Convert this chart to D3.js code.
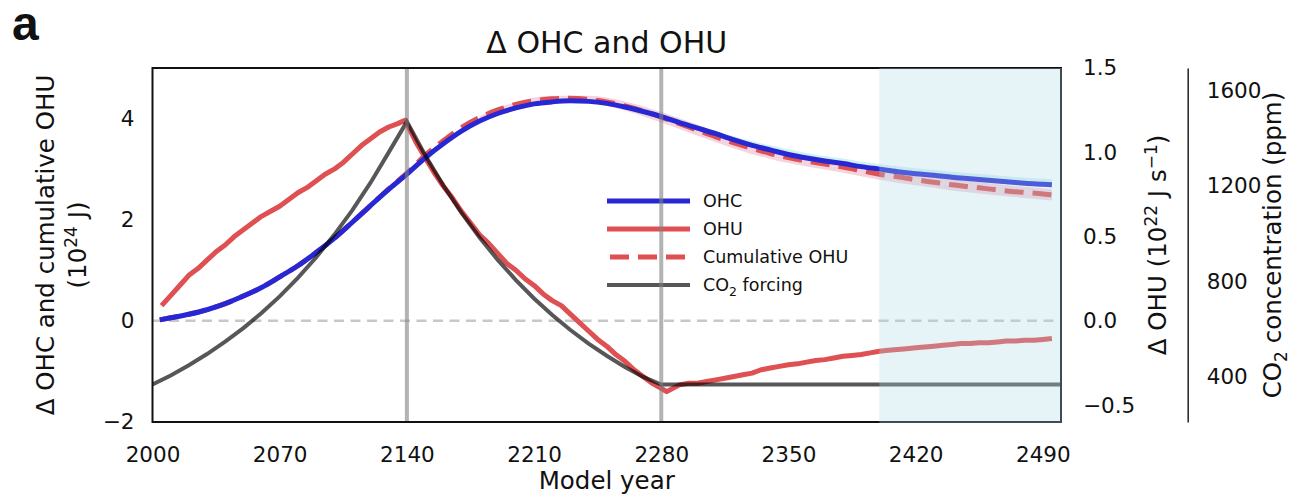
<!DOCTYPE html>
<html>
<head>
<meta charset="utf-8">
<script src="https://cdn.jsdelivr.net/npm/d3@7"></script>
<style>
  body { margin: 0; background: #fff; }
  svg text { font-family: "DejaVu Sans", sans-serif; fill: #111; }
</style>
</head>
<body>
<div id="chart"></div>
<script>
// ---- data ----
var xTicks = [2000, 2070, 2140, 2210, 2280, 2350, 2420, 2490];
var leftTicks = [-2, 0, 2, 4];
var ohuTicks = [-0.5, 0.0, 0.5, 1.0, 1.5];
var co2Ticks = [400, 800, 1200, 1600];
var markerYears = [2140, 2280];
var shadeYears = [2400, 2500];

// OHC (10^24 J)
var ohcYears = [2004, 2010, 2020, 2030, 2040, 2050, 2060, 2070, 2080, 2090, 2100, 2110, 2120, 2130, 2140,
  2150, 2160, 2170, 2180, 2190, 2200, 2210, 2220, 2230, 2240, 2250, 2260, 2270, 2280, 2290, 2300,
  2310, 2320, 2330, 2340, 2350, 2360, 2370, 2380, 2390, 2400, 2410, 2420, 2430, 2440, 2450, 2460,
  2470, 2480, 2490, 2495];
var ohcValues = [0.02, 0.06, 0.13, 0.22, 0.34, 0.49, 0.66, 0.87, 1.09, 1.35, 1.63, 1.95, 2.28, 2.60, 2.90,
  3.22, 3.50, 3.75, 3.95, 4.10, 4.21, 4.29, 4.33, 4.35, 4.34, 4.30, 4.23, 4.14, 4.04, 3.92, 3.81,
  3.70, 3.58, 3.47, 3.38, 3.29, 3.22, 3.16, 3.11, 3.05, 3.00, 2.95, 2.91, 2.88, 2.84, 2.81, 2.78,
  2.75, 2.72, 2.70, 2.69];
// cumulative OHU (10^24 J), same years as OHC
var cumValues = [0.02, 0.06, 0.13, 0.22, 0.34, 0.49, 0.66, 0.87, 1.09, 1.35, 1.63, 1.95, 2.28, 2.61, 2.92,
  3.27, 3.56, 3.82, 4.02, 4.17, 4.28, 4.35, 4.39, 4.40, 4.38, 4.33, 4.25, 4.15, 4.03, 3.90, 3.77,
  3.64, 3.52, 3.41, 3.31, 3.23, 3.16, 3.10, 3.04, 2.97, 2.90, 2.85, 2.79, 2.74, 2.69, 2.65, 2.61,
  2.57, 2.54, 2.51, 2.49];

// spread bands
var bandYears = [2180, 2200, 2220, 2240, 2260, 2280, 2300, 2320, 2340, 2360, 2380, 2400, 2420, 2440, 2460, 2480, 2495];
var cumBandLo = [4.00, 4.24, 4.33, 4.31, 4.16, 3.92, 3.66, 3.41, 3.20, 3.05, 2.93, 2.79, 2.68, 2.58, 2.50, 2.43, 2.38];
var cumBandHi = [4.05, 4.33, 4.45, 4.45, 4.34, 4.13, 3.88, 3.63, 3.42, 3.27, 3.15, 3.01, 2.90, 2.80, 2.72, 2.65, 2.60];
var ohcBandLo = [3.94, 4.19, 4.31, 4.32, 4.20, 4.00, 3.77, 3.54, 3.34, 3.18, 3.07, 2.96, 2.87, 2.80, 2.74, 2.68, 2.65];
var ohcBandHi = [3.96, 4.24, 4.36, 4.37, 4.27, 4.09, 3.87, 3.65, 3.47, 3.32, 3.21, 3.10, 3.02, 2.95, 2.89, 2.83, 2.80];

// OHU (10^22 J s^-1)
var ohuYears = [2005, 2010, 2015, 2020, 2025, 2030, 2035, 2040, 2045, 2050, 2055, 2060, 2065, 2070, 2075,
  2080, 2085, 2090, 2095, 2100, 2105, 2110, 2115, 2120, 2125, 2130, 2135, 2139, 2145, 2150, 2155,
  2160, 2165, 2170, 2175, 2180, 2185, 2190, 2195, 2200, 2205, 2210, 2215, 2220, 2225, 2230, 2235,
  2240, 2245, 2250, 2255, 2260, 2265, 2270, 2275, 2280, 2283, 2290, 2295, 2300, 2305, 2310, 2315,
  2320, 2325, 2330, 2335, 2340, 2345, 2350, 2355, 2360, 2365, 2370, 2375, 2380, 2385, 2390, 2395,
  2400, 2405, 2410, 2415, 2420, 2425, 2430, 2435, 2440, 2445, 2450, 2455, 2460, 2465, 2470, 2475,
  2480, 2485, 2490, 2495];
var ohuValues = [0.09, 0.15, 0.21, 0.27, 0.31, 0.36, 0.41, 0.45, 0.50, 0.54, 0.58, 0.62, 0.65, 0.68, 0.72,
  0.76, 0.79, 0.83, 0.87, 0.90, 0.94, 0.99, 1.04, 1.08, 1.12, 1.15, 1.17, 1.19, 1.06, 0.97, 0.88,
  0.80, 0.73, 0.65, 0.58, 0.51, 0.46, 0.40, 0.34, 0.30, 0.25, 0.21, 0.16, 0.12, 0.09, 0.04, -0.01,
  -0.06, -0.11, -0.15, -0.20, -0.24, -0.29, -0.33, -0.37, -0.40, -0.42, -0.38, -0.37, -0.37, -0.36, -0.35, -0.34,
  -0.33, -0.32, -0.31, -0.29, -0.28, -0.27, -0.26, -0.255, -0.245, -0.235, -0.23, -0.22, -0.21, -0.205, -0.20, -0.19,
  -0.18, -0.175, -0.17, -0.165, -0.16, -0.155, -0.15, -0.145, -0.14, -0.135, -0.135, -0.13, -0.13, -0.125, -0.12, -0.12,
  -0.115, -0.115, -0.11, -0.105];

// CO2 concentration (ppm)
var co2Years = [2000, 2010, 2020, 2030, 2040, 2050, 2060, 2070, 2080, 2090, 2100, 2110, 2120, 2130, 2140,
  2150, 2160, 2170, 2180, 2190, 2200, 2210, 2220, 2230, 2240, 2250, 2260, 2270, 2280, 2500];
var co2Values = [367, 405, 448, 495, 547, 604, 667, 737, 815, 900, 995, 1099, 1214, 1341, 1470,
  1330, 1203, 1088, 984, 890, 805, 728, 659, 596, 539, 488, 441, 399, 367, 367];

var legendLabels = ["OHC", "OHU", "Cumulative OHU", "CO2 forcing"];

// ---- layout ----
var width = 1296, height = 495;
var margin = { top: 68, right: 235, bottom: 73, left: 152.5 };
var plotW = width - margin.left - margin.right;
var plotH = height - margin.top - margin.bottom;
var blue = "#2727d4", red = "#de5052";

var svg = d3.select("#chart").append("svg")
    .attr("width", width)
    .attr("height", height);

var x = d3.scaleLinear().domain([2000, 2500]).range([margin.left, margin.left + plotW]);
var yL = d3.scaleLinear().domain([-2, 5]).range([margin.top + plotH, margin.top]);
var yR = d3.scaleLinear().domain([-0.6, 1.5]).range([margin.top + plotH, margin.top]);
var yC = d3.scaleLinear().domain([210, 1695]).range([margin.top + plotH, margin.top]);

function zip(xs, ys) {
    return xs.map(function (d, i) { return [d, ys[i]]; });
}

var clipId = "plotclip";
svg.append("clipPath").attr("id", clipId)
    .append("rect")
    .attr("x", margin.left).attr("y", margin.top)
    .attr("width", plotW).attr("height", plotH);

var plot = svg.append("g").attr("clip-path", "url(#" + clipId + ")");

// zero reference line
plot.append("line")
    .attr("x1", margin.left).attr("x2", margin.left + plotW)
    .attr("y1", yL(0)).attr("y2", yL(0))
    .attr("stroke", "#c8c8c8")
    .attr("stroke-width", 2.5)
    .attr("stroke-dasharray", "10,6.5");

// bands
var areaL = d3.area()
    .x(function (d) { return x(d[0]); })
    .y0(function (d) { return yL(d[1]); })
    .y1(function (d) { return yL(d[2]); })
    .curve(d3.curveMonotoneX);
plot.append("path")
    .datum(bandYears.map(function (d, i) { return [d, cumBandLo[i], cumBandHi[i]]; }))
    .attr("d", areaL)
    .attr("fill", "#c8285a")
    .attr("fill-opacity", 0.2);
plot.append("path")
    .datum(bandYears.map(function (d, i) { return [d, ohcBandLo[i], ohcBandHi[i]]; }))
    .attr("d", areaL)
    .attr("fill", "#17becf")
    .attr("fill-opacity", 0.2);

var lineL = d3.line()
    .x(function (d) { return x(d[0]); })
    .y(function (d) { return yL(d[1]); })
    .curve(d3.curveMonotoneX);
var lineR = d3.line()
    .x(function (d) { return x(d[0]); })
    .y(function (d) { return yR(d[1]); });
var lineC = d3.line()
    .x(function (d) { return x(d[0]); })
    .y(function (d) { return yC(d[1]); });

// cumulative OHU (dashed)
plot.append("path")
    .datum(zip(ohcYears, cumValues))
    .attr("d", lineL)
    .attr("fill", "none")
    .attr("stroke", red)
    .attr("stroke-width", 5)
    .attr("stroke-dasharray", "19,9");

// OHU
plot.append("path")
    .datum(zip(ohuYears, ohuValues))
    .attr("d", lineR)
    .attr("fill", "none")
    .attr("stroke", red)
    .attr("stroke-width", 5)
    .attr("stroke-linejoin", "round");

// OHC
plot.append("path")
    .datum(zip(ohcYears, ohcValues))
    .attr("d", lineL)
    .attr("fill", "none")
    .attr("stroke", blue)
    .attr("stroke-width", 5);

// CO2
plot.append("path")
    .datum(zip(co2Years, co2Values))
    .attr("d", lineC)
    .attr("fill", "none")
    .attr("stroke", "#000")
    .attr("stroke-opacity", 0.66)
    .attr("stroke-width", 4);

// legend
var legendItems = [
    { label: legendLabels[0], color: blue, dash: null, opacity: 1 },
    { label: legendLabels[1], color: red, dash: null, opacity: 1 },
    { label: legendLabels[2], color: red, dash: "19,9", opacity: 1 },
    { label: legendLabels[3], color: "#000", dash: null, opacity: 0.66 }
];
var legend = svg.append("g").attr("class", "legend");
var lg = legend.selectAll("g")
    .data(legendItems)
    .enter()
    .append("g")
    .attr("transform", function (d, i) { return "translate(607," + (201 + i * 28) + ")"; });
lg.append("line")
    .attr("x1", function (d) { return d.dash ? 3 : 0; }).attr("x2", 83)
    .attr("y1", 0).attr("y2", 0)
    .attr("stroke", function (d) { return d.color; })
    .attr("stroke-opacity", function (d) { return d.opacity; })
    .attr("stroke-width", function (d, i) { return i === 3 ? 4 : 5; })
    .attr("stroke-dasharray", function (d) { return d.dash; });
lg.append("text")
    .attr("x", 96)
    .attr("dy", "0.35em")
    .style("font-size", "17.5px")
    .each(function (d) {
        var t = d3.select(this);
        if (d.label.indexOf("CO2") === 0) {
            t.append("tspan").text("CO");
            t.append("tspan").attr("dy", 5).style("font-size", "12.5px").text("2");
            t.append("tspan").attr("dy", -5).text(d.label.slice(3));
        } else {
            t.text(d.label);
        }
    });

// vertical markers
svg.append("g").selectAll("line")
    .data(markerYears)
    .enter()
    .append("line")
    .attr("x1", function (d) { return x(d); }).attr("x2", function (d) { return x(d); })
    .attr("y1", margin.top).attr("y2", margin.top + plotH)
    .attr("stroke", "#808080")
    .attr("stroke-opacity", 0.6)
    .attr("stroke-width", 4);

// axes
var fontTick = "21.5px";
svg.append("g")
    .attr("transform", "translate(" + margin.left + ",0)")
    .call(d3.axisLeft(yL).tickValues(leftTicks).tickSize(0).tickPadding(18).tickFormat(d3.format("d")))
    .call(function (g) { g.select(".domain").remove(); })
    .selectAll("text").style("font-size", fontTick).style("font-family", "DejaVu Sans");

svg.append("g")
    .attr("transform", "translate(0," + (margin.top + plotH) + ")")
    .call(d3.axisBottom(x).tickValues(xTicks).tickSize(0).tickPadding(25).tickFormat(d3.format("d")))
    .call(function (g) { g.select(".domain").remove(); })
    .selectAll("text").style("font-size", fontTick).style("font-family", "DejaVu Sans");

svg.append("g")
    .attr("transform", "translate(" + (margin.left + plotW) + ",0)")
    .call(d3.axisRight(yR).tickValues(ohuTicks).tickSize(0).tickPadding(22).tickFormat(d3.format(".1f")))
    .call(function (g) { g.select(".domain").remove(); })
    .selectAll("text").style("font-size", fontTick).style("font-family", "DejaVu Sans");

var co2AxisX = 1187.7;
svg.append("g")
    .attr("transform", "translate(" + co2AxisX + ",0)")
    .call(d3.axisRight(yC).tickValues(co2Ticks).tickSize(0).tickPadding(19).tickFormat(d3.format("d")))
    .call(function (g) {
        g.select(".domain").attr("stroke", "#222").attr("stroke-width", 1.5);
    })
    .selectAll("text").style("font-size", fontTick).style("font-family", "DejaVu Sans");

// frame
svg.append("rect")
    .attr("x", margin.left).attr("y", margin.top)
    .attr("width", plotW).attr("height", plotH)
    .attr("fill", "none")
    .attr("stroke", "#111")
    .attr("stroke-width", 2);

// shaded period on top
svg.append("rect")
    .attr("x", x(shadeYears[0])).attr("y", margin.top)
    .attr("width", x(shadeYears[1]) - x(shadeYears[0]) + 1)
    .attr("height", plotH + 1)
    .attr("fill", "#add8e6")
    .attr("fill-opacity", 0.3);

// titles and labels
svg.append("text")
    .attr("x", 12).attr("y", 40)
    .style("font-family", "'Liberation Sans', Arial, sans-serif")
    .style("font-weight", "bold")
    .style("font-size", "48px")
    .text("a");

svg.append("text")
    .attr("x", margin.left + plotW / 2).attr("y", 53)
    .attr("text-anchor", "middle")
    .style("font-size", "30px")
    .text("\u0394 OHC and OHU");

var fontLabel = "24.5px";
svg.append("text")
    .attr("x", margin.left + plotW / 2).attr("y", 489)
    .attr("text-anchor", "middle")
    .style("font-size", fontLabel)
    .text("Model year");

var midY = margin.top + plotH / 2;
svg.append("text")
    .attr("transform", "translate(54," + midY + ") rotate(-90)")
    .attr("text-anchor", "middle")
    .style("font-size", fontLabel)
    .text("\u0394 OHC and cumulative OHU");

var l2 = svg.append("text")
    .attr("transform", "translate(86," + midY + ") rotate(-90)")
    .attr("text-anchor", "middle")
    .style("font-size", fontLabel);
l2.append("tspan").text("(10");
l2.append("tspan").attr("dy", -9).style("font-size", "17px").text("24");
l2.append("tspan").attr("dy", 9).text(" J)");

var r1 = svg.append("text")
    .attr("transform", "translate(1166," + midY + ") rotate(-90)")
    .attr("text-anchor", "middle")
    .style("font-size", fontLabel);
r1.append("tspan").text("\u0394 OHU (10");
r1.append("tspan").attr("dy", -9).style("font-size", "17px").text("22");
r1.append("tspan").attr("dy", 9).text(" J s");
r1.append("tspan").attr("dy", -9).style("font-size", "17px").text("\u22121");
r1.append("tspan").attr("dy", 9).text(")");

var r2 = svg.append("text")
    .attr("transform", "translate(1281," + midY + ") rotate(-90)")
    .attr("text-anchor", "middle")
    .style("font-size", fontLabel);
r2.append("tspan").text("CO");
r2.append("tspan").attr("dy", 6).style("font-size", "17px").text("2");
r2.append("tspan").attr("dy", -6).text(" concentration (ppm)");
</script>
</body>
</html>
